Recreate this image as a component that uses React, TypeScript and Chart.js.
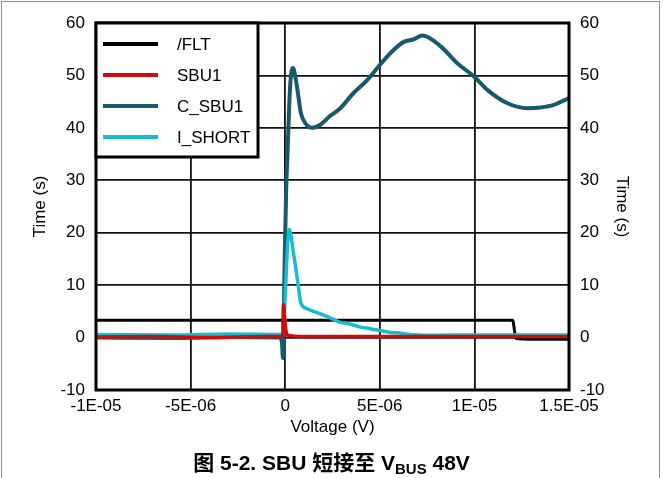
import React, { useEffect, useRef } from "react";
import { Chart, registerables } from "chart.js";

Chart.register(...registerables);

// ---------- data ----------
const xTickValues = [-1e-5, -5e-6, 0, 5e-6, 1e-5, 1.5e-5];
const xTickLabels = ["-1E-05", "-5E-06", "0", "5E-06", "1E-05", "1.5E-05"];

const seriesNames = ["/FLT", "SBU1", "C_SBU1", "I_SHORT"];
const seriesColors = ["#000000", "#d10a0a", "#165a6b", "#17bccf"];

const fltX = [-1e-5, -6e-6, -2.7e-6, 0, 3e-6, 6e-6, 9.6e-6, 12.02e-6, 12.2e-6, 13e-6, 14e-6, 15e-6];
const fltY = [3.3, 3.3, 3.3, 3.3, 3.3, 3.3, 3.3, 3.3, -0.2, -0.3, -0.3, -0.3];

const sbuX = [-1e-5, -7e-6, -4e-6, -1e-6, -0.13e-6, -0.09e-6, 0.0, 0.1e-6, 1e-6, 5e-6, 10e-6, 15e-6];
const sbuY = [0.1, 0.2, 0.0, 0.2, 0.2, 6.3, 2.5, 0.5, 0.2, 0.2, 0.2, 0.2];

const cSbuX = [-1e-5, -6e-6, -3e-6, -0.3e-6, -0.17e-6, -0.12e-6, -0.07e-6, -0.02e-6, 0.05e-6, 0.12e-6, 0.26e-6, 0.41e-6, 0.62e-6, 0.83e-6, 1.06e-6, 1.41e-6, 1.86e-6, 2.35e-6, 2.9e-6, 3.6e-6, 4.33e-6, 5.0e-6, 5.74e-6, 6.27e-6, 6.8e-6, 7.25e-6, 8.2e-6, 9.1e-6, 9.98e-6, 10.7e-6, 11.75e-6, 12.8e-6, 13.5e-6, 14.2e-6, 15e-6];
const cSbuY = [0.0, -0.1, 0.1, 0.0, -1.0, -3.9, 5.0, 16.2, 28.0, 35.0, 47.9, 51.4, 47.9, 42.8, 40.9, 40.0, 40.6, 42.2, 43.7, 46.6, 49.1, 52.0, 54.9, 56.4, 56.9, 57.6, 55.6, 52.3, 49.8, 47.2, 44.7, 43.75, 43.9, 44.4, 45.7];

const iShortX = [-1e-5, -6e-6, -3e-6, -0.1e-6, -0.06e-6, 0.05e-6, 0.13e-6, 0.22e-6, 0.3e-6, 0.44e-6, 0.65e-6, 0.83e-6, 1.15e-6, 1.5e-6, 2.2e-6, 2.92e-6, 3.4e-6, 3.98e-6, 4.5e-6, 4.95e-6, 5.5e-6, 5.9e-6, 6.8e-6, 8e-6, 10e-6, 12e-6, 15e-6];
const iShortY = [0.6, 0.5, 0.7, 0.6, 3.4, 12.0, 18.0, 20.6, 19.5, 16.1, 11.0, 6.6, 5.5, 5.0, 4.06, 2.9, 2.6, 2.0, 1.7, 1.4, 1.0, 0.9, 0.55, 0.45, 0.5, 0.5, 0.5];

const yMin = -10;
const yMax = 60;
const yStep = 10;

const FONT = '"Liberation Sans", Arial, sans-serif';

function pts(xs: number[], ys: number[]) {
  return xs.map((x, i) => ({ x, y: ys[i] }));
}

const frameAndLegend = {
  id: "frameAndLegend",
  afterDatasetsDraw(chart: any) {
    const { ctx, chartArea } = chart;
    const { left, right, top, bottom } = chartArea;
    ctx.save();
    // plot frame
    ctx.strokeStyle = "#000";
    ctx.lineWidth = 3;
    ctx.strokeRect(left, top, right - left, bottom - top);
    // legend box
    const bx = left, by = top, bw = 162, bh = 134;
    ctx.fillStyle = "#fff";
    ctx.fillRect(bx, by, bw, bh);
    ctx.strokeRect(bx, by, bw, bh);
    ctx.font = `17px ${FONT}`;
    ctx.textBaseline = "middle";
    ctx.textAlign = "left";
    seriesNames.forEach((name, i) => {
      const y = by + 21 + i * 31;
      ctx.strokeStyle = seriesColors[i];
      ctx.lineWidth = 4;
      ctx.beginPath();
      ctx.moveTo(bx + 7, y);
      ctx.lineTo(bx + 62, y);
      ctx.stroke();
      ctx.fillStyle = "#000";
      ctx.fillText(name, bx + 81, y + 1);
    });
    ctx.restore();
  },
};

export default function App() {
  const ref = useRef<HTMLCanvasElement>(null);

  useEffect(() => {
    if (!ref.current) return;
    const data = [pts(fltX, fltY), pts(sbuX, sbuY), pts(cSbuX, cSbuY), pts(iShortX, iShortY)];
    const orders = [3, 0, 2, 1];
    const widths = [3, 3.5, 4, 3.5];
    const tickFont = { family: FONT, size: 17 };
    const chart = new Chart(ref.current, {
      type: "line",
      data: {
        datasets: seriesNames.map((name, i) => ({
          label: name,
          data: data[i],
          borderColor: seriesColors[i],
          backgroundColor: seriesColors[i],
          borderWidth: widths[i],
          pointRadius: 0,
          cubicInterpolationMode: "monotone" as const,
          order: orders[i],
          yAxisID: "y",
        })),
      },
      options: {
        responsive: false,
        animation: false,
        events: [],
        layout: { padding: { top: 23, left: 0, right: 0, bottom: 0 } },
        plugins: { legend: { display: false }, tooltip: { enabled: false } },
        scales: {
          x: {
            type: "linear",
            min: -1e-5,
            max: 1.5e-5,
            afterBuildTicks: (s: any) => {
              s.ticks = xTickValues.map((v) => ({ value: v }));
            },
            afterFit: (s: any) => {
              s.height = 88;
            },
            ticks: {
              autoSkip: false,
              maxRotation: 0,
              padding: 6,
              color: "#000",
              font: tickFont,
              callback: (_v: any, i: number) => xTickLabels[i],
            },
            grid: { color: "#111", lineWidth: 1.8, drawTicks: false },
            border: { display: false },
            title: {
              display: true,
              text: "Voltage (V)",
              color: "#000",
              font: tickFont,
              padding: { top: 0, bottom: 40 },
            },
          },
          y: {
            position: "left",
            min: yMin,
            max: yMax,
            ticks: { stepSize: yStep, padding: 11, color: "#000", font: tickFont },
            afterFit: (s: any) => {
              s.width = 96;
            },
            grid: { color: "#111", lineWidth: 1.8, drawTicks: false },
            border: { display: false },
            title: {
              display: true,
              text: "Time (s)",
              color: "#000",
              font: tickFont,
              padding: { top: 30, bottom: 0 },
            },
          },
          y2: {
            position: "right",
            min: yMin,
            max: yMax,
            ticks: { stepSize: yStep, padding: 11, color: "#000", font: tickFont },
            afterFit: (s: any) => {
              s.width = 94;
            },
            grid: { display: false, drawTicks: false },
            border: { display: false },
            title: {
              display: true,
              text: "Time (s)",
              color: "#000",
              font: tickFont,
              padding: { top: 31, bottom: 0 },
            },
          },
        },
      },
      plugins: [frameAndLegend],
    } as any);
    return () => chart.destroy();
  }, []);

  return (
    <div
      style={{
        position: "fixed",
        left: 0,
        top: 0,
        width: 663,
        height: 478,
        background: "#fff",
        overflow: "hidden",
      }}
    >
      <canvas ref={ref} width={663} height={478} style={{ display: "block", width: 663, height: 478 }} />
      <div
        style={{
          position: "absolute",
          left: 1,
          top: 1,
          width: 659,
          height: 480,
          border: "1.5px solid #8c8c8c",
          boxSizing: "border-box",
          pointerEvents: "none",
        }}
      />
      <div
        style={{
          position: "absolute",
          left: 0,
          top: 449,
          width: 663,
          textAlign: "center",
          fontFamily: '"Liberation Sans", Arial, "Noto Sans CJK SC", sans-serif',
          fontWeight: "bold",
          fontSize: 21,
          lineHeight: "27px",
          color: "#000",
        }}
      >
        图 5-2. SBU 短接至 V<span style={{ fontSize: 15, verticalAlign: "-4px" }}>BUS</span> 48V
      </div>
    </div>
  );
}
